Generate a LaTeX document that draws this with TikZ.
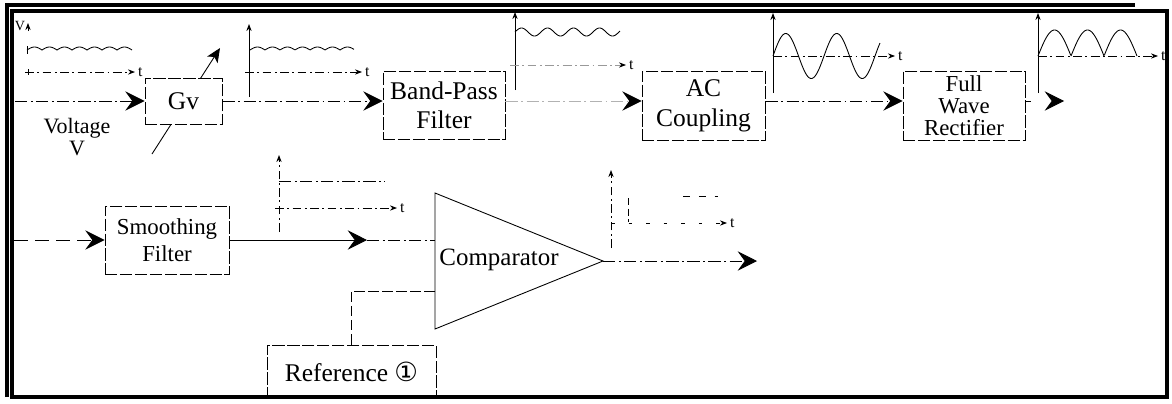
\documentclass[tikz,border=0pt]{standalone}
\usepackage{fontspec}
\setmainfont{Liberation Serif}
\newfontfamily\symfont{DejaVu Sans}
\usetikzlibrary{arrows.meta}
\begin{document}
\begin{tikzpicture}[x=0.02cm,y=-0.02cm,
 blk/.style={draw, line width=0.5pt, dash pattern=on 7pt off 1.5pt, inner sep=0pt, align=center, font=\fontsize{14.5}{16.5}\selectfont},
 bigtip/.style={-{Stealth[length=11pt,width=11pt,inset=4pt]}},
 dd/.style={line width=0.5pt, dash pattern=on 7pt off 2pt on 1pt off 2pt},
 sig/.style={dd, bigtip},
 ax/.style={line width=0.5pt, -{Stealth[length=4pt,width=3pt]}},
 axd/.style={ax, dash pattern=on 5pt off 2pt on 1pt off 2pt},
 wave/.style={line width=0.5pt},
 tlab/.style={font=\fontsize{9}{10}\selectfont, inner sep=1pt, anchor=west},
 lbl/.style={align=center, inner sep=0pt}
]
\useasboundingbox (0,0) rectangle (1172,403);
% frame
\draw[line width=2.2pt] (12,11) rectangle (1167,397);
\draw[line width=1.8pt] (7,397) -- (7,5) -- (1135,5);

% ---- top row ----
% variable gain arrow (behind box)
\draw[wave, -{Stealth[length=8pt,width=7pt,inset=2pt]}] (152,154) -- (220,48);
\node[blk, fill=white, minimum width=1.54cm, minimum height=0.92cm] (gv) at (183.5,101) {Gv};
\node[blk, minimum width=2.44cm, minimum height=1.36cm] (bp) at (444,105) {Band-Pass\\Filter};
\node[blk, minimum width=2.46cm, minimum height=1.38cm, font=\fontsize{14.5}{17}\selectfont] (ac) at (703.5,105.5) {AC\\Coupling};
\node[blk, minimum width=2.44cm, minimum height=1.38cm, font=\fontsize{13}{12.7}\selectfont] (fw) at (964,105.5) {Full\\Wave\\Rectifier};
\node[lbl, font=\fontsize{12.5}{13}\selectfont] (vlab) at (77,137) {Voltage\\V};

\coordinate (in1) at (15,101);
\coordinate (out1) at (1064,101);
\draw[sig] (in1) -- (gv.west);
\draw[sig] (gv.east) -- (bp.west |- gv.east);
\draw[dd, draw=black!30, -{Stealth[length=11pt,width=11pt,inset=4pt,color=black]}] (bp.east |- gv.east) -- (ac.west |- gv.east);
\draw[sig] (ac.east |- gv.east) -- (fw.west |- gv.east);
\draw[line width=0.5pt, dash pattern=on 3pt off 14pt, bigtip] (fw.east |- gv.east) -- (out1);

% waveform 1
\node[font=\fontsize{8}{8}\selectfont, inner sep=0pt] (va) at (20,26) {V};
\draw[ax] (28,31) -- (28,23);
\draw[wave] (27,46) -- (27,54);
\draw[wave] plot[domain=27:132, samples=120] (\x, {50-3*abs(sin((\x-27)/15*180))});
\draw[axd] (25,72) -- (135,72);
\draw[wave] (28,69) -- (28,75);
\node[tlab] at (136,72) {t};

% waveform 2
\draw[ax] (249,97) -- (249,24);
\draw[wave] plot[domain=250:354, samples=120] (\x, {50-3*abs(sin((\x-250)/15*180))});
\draw[axd] (245,72) -- (362,72);
\node[tlab] at (363,72) {t};

% waveform 3
\draw[ax] (515,90) -- (515,12);
\draw[wave] plot[domain=515:620, samples=120] (\x, {32-4*sin((\x-515)/26*360)});
\draw[axd, draw=black!40, -{Stealth[length=4pt,width=3pt,color=black]}] (510,65) -- (626,65);
\node[tlab] at (627,65) {t};

% waveform 4
\draw[ax] (773,93) -- (773,13);
\draw[wave] plot[domain=773:880, samples=150] (\x, {56-22.5*sin((\x-773)/51*360)});
\draw[axd] (773,56) -- (895,56);
\node[tlab] at (896,56) {t};

% waveform 5
\draw[ax] (1038,93) -- (1038,13);
\draw[wave] plot[domain=1038:1137, samples=150] (\x, {56-26*abs(sin((\x-1038)/33*180))});
\draw[axd] (1038,56) -- (1158,56);
\node[tlab] at (1159,56) {t};

% ---- bottom row ----
\node[blk, minimum width=2.48cm, minimum height=1.36cm, font=\fontsize{13}{15.3}\selectfont] (sm) at (167,240) {Smoothing\\Filter};
\node[blk, minimum width=3.38cm, minimum height=1.06cm, font=\fontsize{14.5}{16}\selectfont] (ref) at (351.5,371.5) {Reference {\symfont\fontsize{15}{15}\selectfont ①}};

\coordinate (cA) at (435,193);
\coordinate (cB) at (435,329);
\coordinate (cC) at (603,261);
\draw[line width=0.5pt] (cA) -- (cC) -- (cB) -- cycle;
\node[lbl, font=\fontsize{14.2}{16}\selectfont] (cmp) at (499,260) {Comparator};
\coordinate (cin1) at (435,240);
\coordinate (cin2) at (435,291);
\coordinate (mid2) at (367,240);
\coordinate (in2) at (14,240);
\coordinate (out2) at (757,261);

\draw[line width=0.5pt, dash pattern=on 8pt off 4pt, bigtip] (in2) -- (sm.west);
\draw[line width=0.5pt, bigtip] (sm.east) -- (mid2);
\draw[dd] (mid2) -- (cin1);
\draw[line width=0.5pt, dash pattern=on 6pt off 2pt] (cin2) -| (ref.north);
\draw[sig] (cC) -- (out2);

% waveform 6
\draw[axd] (279,232) -- (279,155);
\draw[dd] (279,181) -- (385,181);
\draw[axd] (275,208) -- (397,208);
\node[tlab] at (398,208) {t};

% waveform 7
\draw[axd] (611,248) -- (611,170);
\draw[line width=0.5pt, dash pattern=on 4pt off 2pt] (628,198) -- (628,222);
\draw[line width=0.5pt, dash pattern=on 4pt off 5pt] (683,196) -- (718,196);
\draw[line width=0.5pt, dash pattern=on 2pt off 8pt, -{Stealth[length=4pt,width=3pt]}] (611,223) -- (727,223);
\node[tlab] at (728,223) {t};
\end{tikzpicture}
\end{document}
